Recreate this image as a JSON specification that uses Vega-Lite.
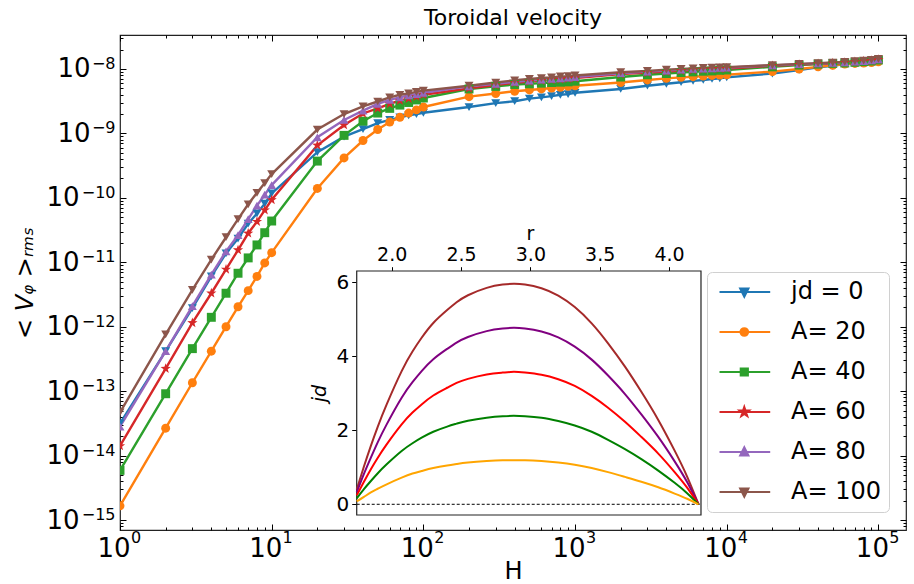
{
"$schema": "https://vega.github.io/schema/vega-lite/v6.json",
"width": 786, "height": 495,
"autosize": {"type": "none"},
"padding": {"left": 120, "top": 35, "right": 8, "bottom": 54},
"background": "white",
"config": {"view": {"stroke": "#222", "strokeWidth": 1.2}, "font": "DejaVu Sans", "axis": {"grid": false, "labelFont": "DejaVu Sans", "titleFont": "DejaVu Sans", "labelColor": "black", "titleColor": "black", "tickColor": "black", "titleFontWeight": "normal"}, "legend": {"labelFont": "DejaVu Sans"}},
"title": {"text": "Toroidal velocity", "fontSize": 22, "fontWeight": "normal", "font": "DejaVu Sans", "color": "black", "anchor": "middle", "offset": -5},
"datasets": {
"frame": [{"r0": 1.748, "r1": 4.23, "j0": -0.289, "j1": 6.305}],
"zero": [{"r0": 1.748, "r1": 4.23, "j": 0}],
"inset": [
{"A":100,"r":1.748,"j":0.40},{"A":100,"r":1.80,"j":1.02},{"A":100,"r":1.85,"j":1.58},{"A":100,"r":1.90,"j":2.10},{"A":100,"r":1.964,"j":2.70},{"A":100,"r":2.072,"j":3.60},{"A":100,"r":2.15,"j":4.13},{"A":100,"r":2.216,"j":4.50},{"A":100,"r":2.30,"j":4.90},{"A":100,"r":2.40,"j":5.25},{"A":100,"r":2.468,"j":5.46},{"A":100,"r":2.55,"j":5.65},{"A":100,"r":2.685,"j":5.85},{"A":100,"r":2.80,"j":5.94},{"A":100,"r":2.88,"j":5.96},{"A":100,"r":2.961,"j":5.94},{"A":100,"r":3.08,"j":5.84},{"A":100,"r":3.201,"j":5.64},{"A":100,"r":3.32,"j":5.33},{"A":100,"r":3.442,"j":4.89},{"A":100,"r":3.56,"j":4.35},{"A":100,"r":3.682,"j":3.72},{"A":100,"r":3.80,"j":3.04},{"A":100,"r":3.922,"j":2.28},{"A":100,"r":4.04,"j":1.45},{"A":100,"r":4.13,"j":0.75},{"A":100,"r":4.212,"j":0},
{"A":80,"r":1.748,"j":0.32},{"A":80,"r":1.80,"j":0.82},{"A":80,"r":1.85,"j":1.26},{"A":80,"r":1.90,"j":1.68},{"A":80,"r":1.964,"j":2.16},{"A":80,"r":2.072,"j":2.88},{"A":80,"r":2.15,"j":3.30},{"A":80,"r":2.216,"j":3.60},{"A":80,"r":2.30,"j":3.92},{"A":80,"r":2.40,"j":4.20},{"A":80,"r":2.468,"j":4.37},{"A":80,"r":2.55,"j":4.52},{"A":80,"r":2.685,"j":4.68},{"A":80,"r":2.80,"j":4.75},{"A":80,"r":2.88,"j":4.77},{"A":80,"r":2.961,"j":4.75},{"A":80,"r":3.08,"j":4.67},{"A":80,"r":3.201,"j":4.51},{"A":80,"r":3.32,"j":4.26},{"A":80,"r":3.442,"j":3.91},{"A":80,"r":3.56,"j":3.48},{"A":80,"r":3.682,"j":2.98},{"A":80,"r":3.80,"j":2.43},{"A":80,"r":3.922,"j":1.82},{"A":80,"r":4.04,"j":1.16},{"A":80,"r":4.13,"j":0.60},{"A":80,"r":4.212,"j":0},
{"A":60,"r":1.748,"j":0.24},{"A":60,"r":1.80,"j":0.61},{"A":60,"r":1.85,"j":0.95},{"A":60,"r":1.90,"j":1.26},{"A":60,"r":1.964,"j":1.62},{"A":60,"r":2.072,"j":2.16},{"A":60,"r":2.15,"j":2.48},{"A":60,"r":2.216,"j":2.70},{"A":60,"r":2.30,"j":2.94},{"A":60,"r":2.40,"j":3.15},{"A":60,"r":2.468,"j":3.28},{"A":60,"r":2.55,"j":3.39},{"A":60,"r":2.685,"j":3.51},{"A":60,"r":2.80,"j":3.56},{"A":60,"r":2.88,"j":3.58},{"A":60,"r":2.961,"j":3.56},{"A":60,"r":3.08,"j":3.50},{"A":60,"r":3.201,"j":3.38},{"A":60,"r":3.32,"j":3.20},{"A":60,"r":3.442,"j":2.93},{"A":60,"r":3.56,"j":2.61},{"A":60,"r":3.682,"j":2.23},{"A":60,"r":3.80,"j":1.82},{"A":60,"r":3.922,"j":1.37},{"A":60,"r":4.04,"j":0.87},{"A":60,"r":4.13,"j":0.45},{"A":60,"r":4.212,"j":0},
{"A":40,"r":1.748,"j":0.16},{"A":40,"r":1.80,"j":0.41},{"A":40,"r":1.85,"j":0.63},{"A":40,"r":1.90,"j":0.84},{"A":40,"r":1.964,"j":1.08},{"A":40,"r":2.072,"j":1.44},{"A":40,"r":2.15,"j":1.65},{"A":40,"r":2.216,"j":1.80},{"A":40,"r":2.30,"j":1.96},{"A":40,"r":2.40,"j":2.10},{"A":40,"r":2.468,"j":2.18},{"A":40,"r":2.55,"j":2.26},{"A":40,"r":2.685,"j":2.34},{"A":40,"r":2.80,"j":2.38},{"A":40,"r":2.88,"j":2.39},{"A":40,"r":2.961,"j":2.38},{"A":40,"r":3.08,"j":2.34},{"A":40,"r":3.201,"j":2.25},{"A":40,"r":3.32,"j":2.13},{"A":40,"r":3.442,"j":1.96},{"A":40,"r":3.56,"j":1.74},{"A":40,"r":3.682,"j":1.49},{"A":40,"r":3.80,"j":1.22},{"A":40,"r":3.922,"j":0.91},{"A":40,"r":4.04,"j":0.58},{"A":40,"r":4.13,"j":0.30},{"A":40,"r":4.212,"j":0},
{"A":20,"r":1.748,"j":0.08},{"A":20,"r":1.80,"j":0.20},{"A":20,"r":1.85,"j":0.32},{"A":20,"r":1.90,"j":0.42},{"A":20,"r":1.964,"j":0.54},{"A":20,"r":2.072,"j":0.72},{"A":20,"r":2.15,"j":0.83},{"A":20,"r":2.216,"j":0.90},{"A":20,"r":2.30,"j":0.98},{"A":20,"r":2.40,"j":1.05},{"A":20,"r":2.468,"j":1.09},{"A":20,"r":2.55,"j":1.13},{"A":20,"r":2.685,"j":1.17},{"A":20,"r":2.80,"j":1.19},{"A":20,"r":2.88,"j":1.19},{"A":20,"r":2.961,"j":1.19},{"A":20,"r":3.08,"j":1.17},{"A":20,"r":3.201,"j":1.13},{"A":20,"r":3.32,"j":1.07},{"A":20,"r":3.442,"j":0.98},{"A":20,"r":3.56,"j":0.87},{"A":20,"r":3.682,"j":0.74},{"A":20,"r":3.80,"j":0.61},{"A":20,"r":3.922,"j":0.46},{"A":20,"r":4.04,"j":0.29},{"A":20,"r":4.13,"j":0.15},{"A":20,"r":4.212,"j":0}
],
"main": [
{"s":"jd = 0","H":1,"V":3.16e-14},{"s":"jd = 0","H":2,"V":4.17e-13},{"s":"jd = 0","H":3,"V":1.95e-12},{"s":"jd = 0","H":4,"V":6.03e-12},{"s":"jd = 0","H":5,"V":1.38e-11},{"s":"jd = 0","H":6,"V":2.34e-11},{"s":"jd = 0","H":7,"V":3.98e-11},{"s":"jd = 0","H":8,"V":5.75e-11},{"s":"jd = 0","H":9,"V":8.13e-11},{"s":"jd = 0","H":10,"V":1.17e-10},
{"s":"jd = 0","H":20,"V":5.13e-10},{"s":"jd = 0","H":30,"V":8.91e-10},{"s":"jd = 0","H":40,"V":1.17e-9},{"s":"jd = 0","H":50,"V":1.45e-9},{"s":"jd = 0","H":60,"V":1.62e-9},{"s":"jd = 0","H":70,"V":1.78e-9},{"s":"jd = 0","H":80,"V":1.91e-9},{"s":"jd = 0","H":90,"V":2.00e-9},{"s":"jd = 0","H":100,"V":2.09e-9},
{"s":"jd = 0","H":200,"V":2.57e-9},{"s":"jd = 0","H":300,"V":2.95e-9},{"s":"jd = 0","H":400,"V":3.16e-9},{"s":"jd = 0","H":500,"V":3.47e-9},{"s":"jd = 0","H":600,"V":3.63e-9},{"s":"jd = 0","H":700,"V":3.80e-9},{"s":"jd = 0","H":800,"V":3.98e-9},{"s":"jd = 0","H":900,"V":4.07e-9},{"s":"jd = 0","H":1000,"V":4.27e-9},
{"s":"jd = 0","H":2000,"V":4.90e-9},{"s":"jd = 0","H":3000,"V":5.50e-9},{"s":"jd = 0","H":4000,"V":5.89e-9},{"s":"jd = 0","H":5000,"V":6.24e-9},{"s":"jd = 0","H":6000,"V":6.53e-9},{"s":"jd = 0","H":7000,"V":6.76e-9},{"s":"jd = 0","H":8000,"V":7.00e-9},{"s":"jd = 0","H":9000,"V":7.16e-9},{"s":"jd = 0","H":10000,"V":7.41e-9},
{"s":"jd = 0","H":20000,"V":8.51e-9},{"s":"jd = 0","H":30000,"V":9.66e-9},{"s":"jd = 0","H":40000,"V":1.06e-8},{"s":"jd = 0","H":50000,"V":1.12e-8},{"s":"jd = 0","H":60000,"V":1.19e-8},{"s":"jd = 0","H":70000,"V":1.23e-8},{"s":"jd = 0","H":80000,"V":1.29e-8},{"s":"jd = 0","H":90000,"V":1.32e-8},{"s":"jd = 0","H":100000,"V":1.35e-8},
{"s":"A= 20","H":1,"V":1.66e-15},{"s":"A= 20","H":2,"V":2.66e-14},{"s":"A= 20","H":3,"V":1.35e-13},{"s":"A= 20","H":4,"V":4.17e-13},{"s":"A= 20","H":5,"V":1.00e-12},{"s":"A= 20","H":6,"V":2.04e-12},{"s":"A= 20","H":7,"V":3.63e-12},{"s":"A= 20","H":8,"V":6.03e-12},{"s":"A= 20","H":9,"V":9.77e-12},{"s":"A= 20","H":10,"V":1.41e-11},
{"s":"A= 20","H":20,"V":1.40e-10},{"s":"A= 20","H":30,"V":4.17e-10},{"s":"A= 20","H":40,"V":7.76e-10},{"s":"A= 20","H":50,"V":1.15e-9},{"s":"A= 20","H":60,"V":1.50e-9},{"s":"A= 20","H":70,"V":1.78e-9},{"s":"A= 20","H":80,"V":2.07e-9},{"s":"A= 20","H":90,"V":2.32e-9},{"s":"A= 20","H":100,"V":2.57e-9},
{"s":"A= 20","H":200,"V":3.72e-9},{"s":"A= 20","H":300,"V":4.17e-9},{"s":"A= 20","H":400,"V":4.52e-9},{"s":"A= 20","H":500,"V":4.73e-9},{"s":"A= 20","H":600,"V":4.90e-9},{"s":"A= 20","H":700,"V":5.07e-9},{"s":"A= 20","H":800,"V":5.19e-9},{"s":"A= 20","H":900,"V":5.37e-9},{"s":"A= 20","H":1000,"V":5.50e-9},
{"s":"A= 20","H":2000,"V":6.17e-9},{"s":"A= 20","H":3000,"V":6.76e-9},{"s":"A= 20","H":4000,"V":7.16e-9},{"s":"A= 20","H":5000,"V":7.41e-9},{"s":"A= 20","H":6000,"V":7.59e-9},{"s":"A= 20","H":7000,"V":7.76e-9},{"s":"A= 20","H":8000,"V":7.94e-9},{"s":"A= 20","H":9000,"V":8.04e-9},{"s":"A= 20","H":10000,"V":8.13e-9},
{"s":"A= 20","H":20000,"V":9.12e-9},{"s":"A= 20","H":30000,"V":1.00e-8},{"s":"A= 20","H":40000,"V":1.08e-8},{"s":"A= 20","H":50000,"V":1.14e-8},{"s":"A= 20","H":60000,"V":1.19e-8},{"s":"A= 20","H":70000,"V":1.22e-8},{"s":"A= 20","H":80000,"V":1.24e-8},{"s":"A= 20","H":90000,"V":1.26e-8},{"s":"A= 20","H":100000,"V":1.29e-8},
{"s":"A= 40","H":1,"V":5.89e-15},{"s":"A= 40","H":2,"V":9.12e-14},{"s":"A= 40","H":3,"V":4.57e-13},{"s":"A= 40","H":4,"V":1.40e-12},{"s":"A= 40","H":5,"V":3.31e-12},{"s":"A= 40","H":6,"V":6.76e-12},{"s":"A= 40","H":7,"V":1.17e-11},{"s":"A= 40","H":8,"V":1.86e-11},{"s":"A= 40","H":9,"V":2.88e-11},{"s":"A= 40","H":10,"V":4.37e-11},
{"s":"A= 40","H":20,"V":3.72e-10},{"s":"A= 40","H":30,"V":9.33e-10},{"s":"A= 40","H":40,"V":1.55e-9},{"s":"A= 40","H":50,"V":2.07e-9},{"s":"A= 40","H":60,"V":2.45e-9},{"s":"A= 40","H":70,"V":2.75e-9},{"s":"A= 40","H":80,"V":3.02e-9},{"s":"A= 40","H":90,"V":3.31e-9},{"s":"A= 40","H":100,"V":3.55e-9},
{"s":"A= 40","H":200,"V":4.90e-9},{"s":"A= 40","H":300,"V":5.37e-9},{"s":"A= 40","H":400,"V":5.75e-9},{"s":"A= 40","H":500,"V":5.89e-9},{"s":"A= 40","H":600,"V":6.03e-9},{"s":"A= 40","H":700,"V":6.17e-9},{"s":"A= 40","H":800,"V":6.24e-9},{"s":"A= 40","H":900,"V":6.31e-9},{"s":"A= 40","H":1000,"V":6.46e-9},
{"s":"A= 40","H":2000,"V":7.50e-9},{"s":"A= 40","H":3000,"V":8.13e-9},{"s":"A= 40","H":4000,"V":8.51e-9},{"s":"A= 40","H":5000,"V":8.81e-9},{"s":"A= 40","H":6000,"V":9.02e-9},{"s":"A= 40","H":7000,"V":9.23e-9},{"s":"A= 40","H":8000,"V":9.33e-9},{"s":"A= 40","H":9000,"V":9.55e-9},{"s":"A= 40","H":10000,"V":9.66e-9},
{"s":"A= 40","H":20000,"V":1.08e-8},{"s":"A= 40","H":30000,"V":1.15e-8},{"s":"A= 40","H":40000,"V":1.19e-8},{"s":"A= 40","H":50000,"V":1.22e-8},{"s":"A= 40","H":60000,"V":1.24e-8},{"s":"A= 40","H":70000,"V":1.27e-8},{"s":"A= 40","H":80000,"V":1.30e-8},{"s":"A= 40","H":90000,"V":1.33e-8},{"s":"A= 40","H":100000,"V":1.38e-8},
{"s":"A= 60","H":1,"V":1.41e-14},{"s":"A= 60","H":2,"V":2.24e-13},{"s":"A= 60","H":3,"V":1.15e-12},{"s":"A= 60","H":4,"V":3.31e-12},{"s":"A= 60","H":5,"V":7.76e-12},{"s":"A= 60","H":6,"V":1.55e-11},{"s":"A= 60","H":7,"V":2.82e-11},{"s":"A= 60","H":8,"V":4.27e-11},{"s":"A= 60","H":9,"V":6.46e-11},{"s":"A= 60","H":10,"V":9.33e-11},
{"s":"A= 60","H":20,"V":6.53e-10},{"s":"A= 60","H":30,"V":1.35e-9},{"s":"A= 60","H":40,"V":2.04e-9},{"s":"A= 60","H":50,"V":2.45e-9},{"s":"A= 60","H":60,"V":2.88e-9},{"s":"A= 60","H":70,"V":3.24e-9},{"s":"A= 60","H":80,"V":3.47e-9},{"s":"A= 60","H":90,"V":3.72e-9},{"s":"A= 60","H":100,"V":3.98e-9},
{"s":"A= 60","H":200,"V":5.01e-9},{"s":"A= 60","H":300,"V":5.62e-9},{"s":"A= 60","H":400,"V":6.10e-9},{"s":"A= 60","H":500,"V":6.38e-9},{"s":"A= 60","H":600,"V":6.61e-9},{"s":"A= 60","H":700,"V":6.76e-9},{"s":"A= 60","H":800,"V":6.92e-9},{"s":"A= 60","H":900,"V":7.08e-9},{"s":"A= 60","H":1000,"V":7.24e-9},
{"s":"A= 60","H":2000,"V":8.32e-9},{"s":"A= 60","H":3000,"V":8.81e-9},{"s":"A= 60","H":4000,"V":9.12e-9},{"s":"A= 60","H":5000,"V":9.44e-9},{"s":"A= 60","H":6000,"V":9.66e-9},{"s":"A= 60","H":7000,"V":9.89e-9},{"s":"A= 60","H":8000,"V":1.00e-8},{"s":"A= 60","H":9000,"V":1.01e-8},{"s":"A= 60","H":10000,"V":1.02e-8},
{"s":"A= 60","H":20000,"V":1.12e-8},{"s":"A= 60","H":30000,"V":1.17e-8},{"s":"A= 60","H":40000,"V":1.20e-8},{"s":"A= 60","H":50000,"V":1.23e-8},{"s":"A= 60","H":60000,"V":1.26e-8},{"s":"A= 60","H":70000,"V":1.29e-8},{"s":"A= 60","H":80000,"V":1.32e-8},{"s":"A= 60","H":90000,"V":1.35e-8},{"s":"A= 60","H":100000,"V":1.40e-8},
{"s":"A= 80","H":1,"V":2.82e-14},{"s":"A= 80","H":2,"V":4.17e-13},{"s":"A= 80","H":3,"V":2.09e-12},{"s":"A= 80","H":4,"V":6.46e-12},{"s":"A= 80","H":5,"V":1.48e-11},{"s":"A= 80","H":6,"V":2.63e-11},{"s":"A= 80","H":7,"V":4.68e-11},{"s":"A= 80","H":8,"V":7.59e-11},{"s":"A= 80","H":9,"V":1.12e-10},{"s":"A= 80","H":10,"V":1.58e-10},
{"s":"A= 80","H":20,"V":8.71e-10},{"s":"A= 80","H":30,"V":1.62e-9},{"s":"A= 80","H":40,"V":2.26e-9},{"s":"A= 80","H":50,"V":2.88e-9},{"s":"A= 80","H":60,"V":3.31e-9},{"s":"A= 80","H":70,"V":3.63e-9},{"s":"A= 80","H":80,"V":3.89e-9},{"s":"A= 80","H":90,"V":4.07e-9},{"s":"A= 80","H":100,"V":4.27e-9},
{"s":"A= 80","H":200,"V":5.37e-9},{"s":"A= 80","H":300,"V":5.89e-9},{"s":"A= 80","H":400,"V":6.31e-9},{"s":"A= 80","H":500,"V":6.61e-9},{"s":"A= 80","H":600,"V":6.84e-9},{"s":"A= 80","H":700,"V":7.00e-9},{"s":"A= 80","H":800,"V":7.16e-9},{"s":"A= 80","H":900,"V":7.33e-9},{"s":"A= 80","H":1000,"V":7.50e-9},
{"s":"A= 80","H":2000,"V":8.61e-9},{"s":"A= 80","H":3000,"V":9.12e-9},{"s":"A= 80","H":4000,"V":9.44e-9},{"s":"A= 80","H":5000,"V":9.77e-9},{"s":"A= 80","H":6000,"V":1.00e-8},{"s":"A= 80","H":7000,"V":1.01e-8},{"s":"A= 80","H":8000,"V":1.02e-8},{"s":"A= 80","H":9000,"V":1.04e-8},{"s":"A= 80","H":10000,"V":1.05e-8},
{"s":"A= 80","H":20000,"V":1.14e-8},{"s":"A= 80","H":30000,"V":1.19e-8},{"s":"A= 80","H":40000,"V":1.22e-8},{"s":"A= 80","H":50000,"V":1.24e-8},{"s":"A= 80","H":60000,"V":1.27e-8},{"s":"A= 80","H":70000,"V":1.30e-8},{"s":"A= 80","H":80000,"V":1.33e-8},{"s":"A= 80","H":90000,"V":1.36e-8},{"s":"A= 80","H":100000,"V":1.41e-8},
{"s":"A= 100","H":1,"V":4.68e-14},{"s":"A= 100","H":2,"V":7.59e-13},{"s":"A= 100","H":3,"V":3.72e-12},{"s":"A= 100","H":4,"V":1.10e-11},{"s":"A= 100","H":5,"V":2.45e-11},{"s":"A= 100","H":6,"V":4.68e-11},{"s":"A= 100","H":7,"V":7.94e-11},{"s":"A= 100","H":8,"V":1.20e-10},{"s":"A= 100","H":9,"V":1.70e-10},{"s":"A= 100","H":10,"V":2.34e-10},
{"s":"A= 100","H":20,"V":1.15e-9},{"s":"A= 100","H":30,"V":2.00e-9},{"s":"A= 100","H":40,"V":2.63e-9},{"s":"A= 100","H":50,"V":3.13e-9},{"s":"A= 100","H":60,"V":3.63e-9},{"s":"A= 100","H":70,"V":3.98e-9},{"s":"A= 100","H":80,"V":4.17e-9},{"s":"A= 100","H":90,"V":4.42e-9},{"s":"A= 100","H":100,"V":4.62e-9},
{"s":"A= 100","H":200,"V":5.50e-9},{"s":"A= 100","H":300,"V":6.17e-9},{"s":"A= 100","H":400,"V":6.68e-9},{"s":"A= 100","H":500,"V":7.00e-9},{"s":"A= 100","H":600,"V":7.24e-9},{"s":"A= 100","H":700,"V":7.41e-9},{"s":"A= 100","H":800,"V":7.67e-9},{"s":"A= 100","H":900,"V":7.76e-9},{"s":"A= 100","H":1000,"V":7.94e-9},
{"s":"A= 100","H":2000,"V":8.91e-9},{"s":"A= 100","H":3000,"V":9.33e-9},{"s":"A= 100","H":4000,"V":9.77e-9},{"s":"A= 100","H":5000,"V":1.00e-8},{"s":"A= 100","H":6000,"V":1.02e-8},{"s":"A= 100","H":7000,"V":1.04e-8},{"s":"A= 100","H":8000,"V":1.05e-8},{"s":"A= 100","H":9000,"V":1.06e-8},{"s":"A= 100","H":10000,"V":1.07e-8},
{"s":"A= 100","H":20000,"V":1.15e-8},{"s":"A= 100","H":30000,"V":1.20e-8},{"s":"A= 100","H":40000,"V":1.23e-8},{"s":"A= 100","H":50000,"V":1.26e-8},{"s":"A= 100","H":60000,"V":1.29e-8},{"s":"A= 100","H":70000,"V":1.32e-8},{"s":"A= 100","H":80000,"V":1.35e-8},{"s":"A= 100","H":90000,"V":1.38e-8},{"s":"A= 100","H":100000,"V":1.43e-8}
]
},
"layer": [
{
"data": {"name": "main"},
"mark": {"type": "line", "strokeWidth": 2.4, "clip": true},
"encoding": {
"x": {"field": "H", "type": "quantitative", "scale": {"type": "log", "domain": [1, 152000], "nice": false},
 "axis": {"orient": "bottom", "domain": false, "labelOverlap": false, "labelFlush": false, "labelBound": false,
  "values": [1,2,3,4,5,6,7,8,9,10,20,30,40,50,60,70,80,90,100,200,300,400,500,600,700,800,900,1000,2000,3000,4000,5000,6000,7000,8000,9000,10000,20000,30000,40000,50000,60000,70000,80000,90000,100000],
  "labelExpr": "abs(log(datum.value)/LN10 - round(log(datum.value)/LN10)) < 0.01 ? '10' : ''",
  "tickSize": {"condition": {"test": "abs(log(datum.value)/LN10 - round(log(datum.value)/LN10)) < 0.01", "value": -6}, "value": -3},
  "labelFontSize": 26, "labelPadding": 11, "labelOffset": -6.5, "title": "H", "titleFontSize": 24, "titlePadding": -5}},
"y": {"field": "V", "type": "quantitative", "scale": {"type": "log", "domain": [7.0e-16, 3.37e-8], "nice": false},
 "axis": {"orient": "left", "domain": false, "labelOverlap": false, "labelFlush": false, "labelBound": false,
  "values": [8e-16,9e-16,1e-15,2e-15,3e-15,4e-15,5e-15,6e-15,7e-15,8e-15,9e-15,1e-14,2e-14,3e-14,4e-14,5e-14,6e-14,7e-14,8e-14,9e-14,1e-13,2e-13,3e-13,4e-13,5e-13,6e-13,7e-13,8e-13,9e-13,1e-12,2e-12,3e-12,4e-12,5e-12,6e-12,7e-12,8e-12,9e-12,1e-11,2e-11,3e-11,4e-11,5e-11,6e-11,7e-11,8e-11,9e-11,1e-10,2e-10,3e-10,4e-10,5e-10,6e-10,7e-10,8e-10,9e-10,1e-9,2e-9,3e-9,4e-9,5e-9,6e-9,7e-9,8e-9,9e-9,1e-8,2e-8,3e-8],
  "labelExpr": "abs(log(datum.value)/LN10 - round(log(datum.value)/LN10)) < 0.01 ? '10' : ''",
  "tickSize": {"condition": {"test": "abs(log(datum.value)/LN10 - round(log(datum.value)/LN10)) < 0.01", "value": -6}, "value": -3},
  "labelPadding": {"condition": {"test": "datum.value > 5e-10", "value": 36}, "value": 47},
  "labelFontSize": 26, "title": "< Vᵩ >ᵣₘₛ", "titleFontSize": 24, "titleFontStyle": "italic", "titlePadding": 8}},
"color": {"field": "s", "type": "nominal", "scale": {"domain": ["jd = 0","A= 20","A= 40","A= 60","A= 80","A= 100"], "range": ["#1f77b4","#ff7f0e","#2ca02c","#d62728","#9467bd","#8c564b"]},
 "legend": {"orient": "none", "legendX": 587, "legendY": 237, "direction": "vertical", "title": null,
  "labelFontSize": 24, "labelColor": "black", "labelLimit": 200, "symbolSize": 100, "symbolStrokeWidth": 2.2, "labelOffset": 52,
  "padding": 8, "rowPadding": 16, "fillColor": "white", "strokeColor": "#d0d0d0", "cornerRadius": 5,
  "encode": {"symbols": {"update": {
   "shape": {"signal": "['M-1.5,0H8.64M2.66,-0.7H4.26L3.46,0.9Z','M-1.5,0H8.64M2.71,0A0.75,0.75,0,1,0,4.21,0A0.75,0.75,0,1,0,2.71,0Z','M-1.5,0H8.64M2.76,-0.7H4.16V0.7H2.76Z','M-1.5,0H8.64M3.46,-0.95L3.68,-0.31L4.36,-0.29L3.82,0.12L4.02,0.77L3.46,0.38L2.9,0.77L3.1,0.12L2.56,-0.29L3.24,-0.31Z','M-1.5,0H8.64M2.66,0.7H4.26L3.46,-0.9Z','M-1.5,0H8.64M2.66,-0.7H4.26L3.46,0.9Z'][indexof(['jd = 0','A= 20','A= 40','A= 60','A= 80','A= 100'], datum.value)]"},
   "stroke": {"signal": "['#1f77b4','#ff7f0e','#2ca02c','#d62728','#9467bd','#8c564b'][indexof(['jd = 0','A= 20','A= 40','A= 60','A= 80','A= 100'], datum.value)]"},
   "fill": {"signal": "['#1f77b4','#ff7f0e','#2ca02c','#d62728','#9467bd','#8c564b'][indexof(['jd = 0','A= 20','A= 40','A= 60','A= 80','A= 100'], datum.value)]"},
   "strokeWidth": {"value": 2.2},
   "opacity": {"value": 1}}}}}}
}
},
{
"data": {"name": "main"},
"layer": [
{
"mark": {"type": "point", "filled": true, "size": 80, "opacity": 1, "clip": true},
"encoding": {
"x": {"field": "H", "type": "quantitative", "scale": {"type": "log", "domain": [1, 152000], "nice": false},
 "axis": {"orient": "top", "domain": false, "labels": false, "title": null,
  "values": [1,2,3,4,5,6,7,8,9,10,20,30,40,50,60,70,80,90,100,200,300,400,500,600,700,800,900,1000,2000,3000,4000,5000,6000,7000,8000,9000,10000,20000,30000,40000,50000,60000,70000,80000,90000,100000],
  "tickSize": {"condition": {"test": "abs(log(datum.value)/LN10 - round(log(datum.value)/LN10)) < 0.01", "value": -6}, "value": -3}}},
"y": {"field": "V", "type": "quantitative", "scale": {"type": "log", "domain": [7.0e-16, 3.37e-8], "nice": false},
 "axis": {"orient": "right", "domain": false, "labels": false, "title": null,
  "values": [8e-16,9e-16,1e-15,2e-15,3e-15,4e-15,5e-15,6e-15,7e-15,8e-15,9e-15,1e-14,2e-14,3e-14,4e-14,5e-14,6e-14,7e-14,8e-14,9e-14,1e-13,2e-13,3e-13,4e-13,5e-13,6e-13,7e-13,8e-13,9e-13,1e-12,2e-12,3e-12,4e-12,5e-12,6e-12,7e-12,8e-12,9e-12,1e-11,2e-11,3e-11,4e-11,5e-11,6e-11,7e-11,8e-11,9e-11,1e-10,2e-10,3e-10,4e-10,5e-10,6e-10,7e-10,8e-10,9e-10,1e-9,2e-9,3e-9,4e-9,5e-9,6e-9,7e-9,8e-9,9e-9,1e-8,2e-8,3e-8],
  "tickSize": {"condition": {"test": "abs(log(datum.value)/LN10 - round(log(datum.value)/LN10)) < 0.01", "value": -6}, "value": -3}}},
"color": {"field": "s", "type": "nominal", "scale": {"domain": ["jd = 0","A= 20","A= 40","A= 60","A= 80","A= 100"], "range": ["#1f77b4","#ff7f0e","#2ca02c","#d62728","#9467bd","#8c564b"]}, "legend": null},
"shape": {"field": "s", "type": "nominal", "scale": {"domain": ["jd = 0","A= 20","A= 40","A= 60","A= 80","A= 100"], "range": ["triangle-down","circle","square","M0,-1.2L0.28,-0.39L1.14,-0.37L0.46,0.15L0.71,0.97L0,0.48L-0.71,0.97L-0.46,0.15L-1.14,-0.37L-0.28,-0.39Z","triangle-up","triangle-down"]}, "legend": null}
}
},
{
"mark": {"type": "point", "opacity": 0, "size": 1},
"encoding": {
"x": {"field": "H", "type": "quantitative", "scale": {"type": "log", "domain": [1, 152000], "nice": false},
 "axis": {"orient": "bottom", "domain": false, "ticks": false, "title": null, "labelOverlap": false, "labelFlush": false, "labelBound": false,
  "values": [1, 10, 100, 1000, 10000, 100000],
  "labelExpr": "['0','1','2','3','4','5'][round(log(datum.value)/LN10)]",
  "labelFontSize": 16, "labelPadding": -1, "labelOffset": 15.5}},
"y": {"field": "V", "type": "quantitative", "scale": {"type": "log", "domain": [7.0e-16, 3.37e-8], "nice": false},
 "axis": {"orient": "left", "domain": false, "ticks": false, "title": null, "labelOverlap": false, "labelFlush": false, "labelBound": false,
  "values": [1e-15, 1e-14, 1e-13, 1e-12, 1e-11, 1e-10, 1e-9, 1e-8],
  "labelExpr": "'−' + format(-round(log(datum.value)/LN10), 'd')",
  "labelFontSize": 16, "labelPadding": 5, "labelOffset": -5.5}}
}
}
],
"resolve": {"axis": {"x": "independent", "y": "independent"}}
},
{
"layer": [
{
"data": {"name": "frame"},
"mark": {"type": "rect", "fill": "white", "stroke": "#222", "strokeWidth": 1.2},
"encoding": {
"x": {"field": "r0", "type": "quantitative", "scale": {"domain": [0.0414, 5.708], "nice": false, "zero": false},
 "axis": {"orient": "top", "offset": -236.7, "domain": false, "values": [2.0, 2.5, 3.0, 3.5, 4.0], "format": ".1f", "tickSize": 5, "labelFontSize": 19, "labelPadding": 2, "title": "r", "titleFontSize": 19, "titleX": 410, "titlePadding": 2}},
"x2": {"field": "r1"},
"y": {"field": "j0", "type": "quantitative", "scale": {"domain": [-0.695, 12.684], "nice": false, "zero": false},
 "axis": {"orient": "left", "offset": -236.7, "domain": false, "values": [0, 2, 4, 6], "tickSize": 5, "labelFontSize": 20, "labelPadding": 3, "title": "jd", "titleFontSize": 19, "titleFontStyle": "italic", "titleY": 358, "titlePadding": 6}},
"y2": {"field": "j1"}
}
},
{
"data": {"name": "zero"},
"mark": {"type": "rule", "stroke": "black", "strokeWidth": 1, "strokeDash": [3, 2]},
"encoding": {
"x": {"field": "r0", "type": "quantitative"},
"x2": {"field": "r1"},
"y": {"field": "j", "type": "quantitative"}
}
},
{
"data": {"name": "inset"},
"mark": {"type": "line", "strokeWidth": 2, "interpolate": "natural"},
"encoding": {
"x": {"field": "r", "type": "quantitative"},
"y": {"field": "j", "type": "quantitative"},
"color": {"field": "A", "type": "nominal", "scale": {"domain": [20, 40, 60, 80, 100], "range": ["#FFA500", "#008000", "#FF0000", "#800080", "#A52A2A"]}, "legend": null}
}
}
]
}
],
"resolve": {"scale": {"x": "independent", "y": "independent", "color": "independent", "shape": "independent"}, "axis": {"x": "independent", "y": "independent"}}
}
